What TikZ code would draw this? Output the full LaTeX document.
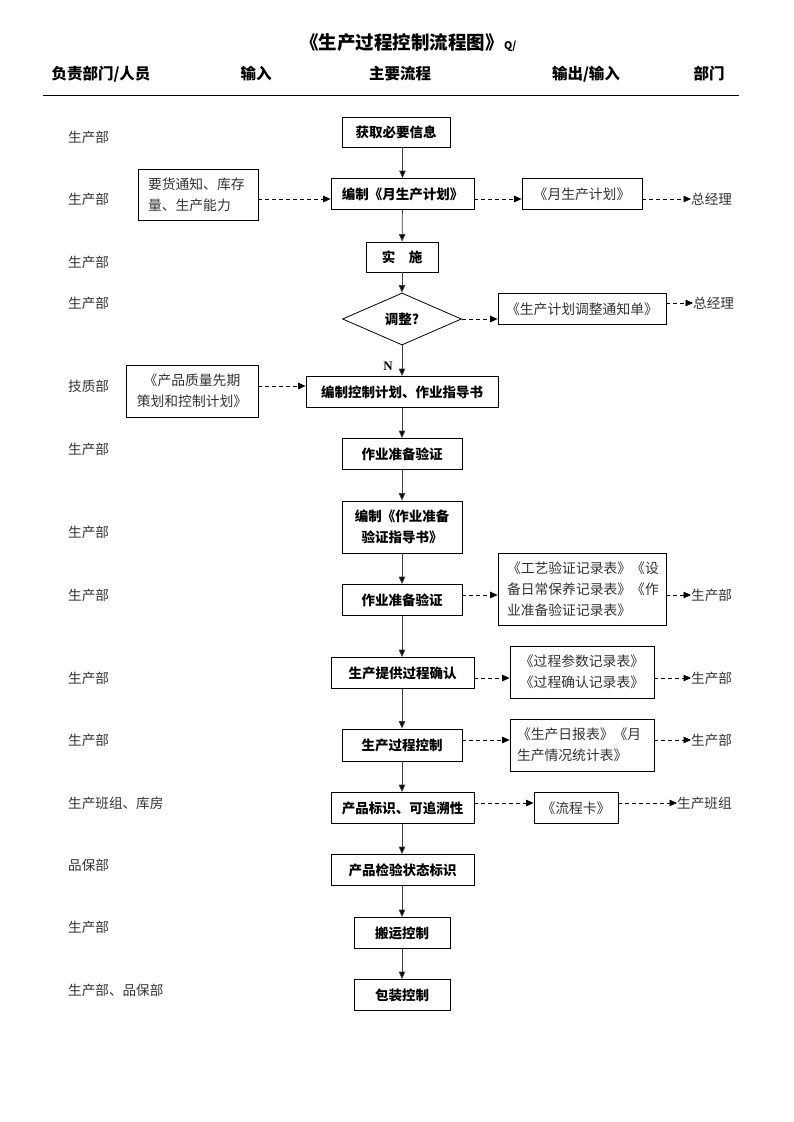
\documentclass[tikz,border=0pt]{standalone}
\usepackage{fontspec}
\setmainfont{Noto Sans CJK SC}
\newfontfamily\serifN{Liberation Serif}
\usetikzlibrary{arrows.meta,shapes.geometric}
\begin{document}
\begin{tikzpicture}[x=1pt,y=-1pt,
  box/.style={draw, line width=0.8pt, inner sep=0pt, anchor=center,
    font=\fontsize{13.5}{21}\selectfont\bfseries},
  doc/.style={draw, line width=0.8pt, inner sep=0pt, anchor=center, text=black!80,
    font=\fontsize{13.8}{21}\selectfont},
  lab/.style={anchor=west, inner sep=0pt, text=black!80, font=\fontsize{13.6}{16}\selectfont},
  rlab/.style={anchor=west, inner sep=0pt, text=black!80, font=\fontsize{13.6}{16}\selectfont},
  hdr/.style={anchor=center, inner sep=0pt, font=\fontsize{15.5}{18}\selectfont\bfseries},
  arr/.style={line width=0.8pt, draw=black!75, -{Triangle[length=7.5pt,width=6.5pt,fill=black]}},
  dar/.style={line width=0.7pt, dash pattern=on 4pt off 3pt, -{Triangle[length=7.5pt,width=6.5pt,fill=black]}}
]
\useasboundingbox (0,0) rectangle (793,1122);
\fill[white] (0,0) rectangle (793,1122);

% title and header
\node[anchor=center, inner sep=0pt, font=\fontsize{18.5}{20}\selectfont\bfseries] (title) at (402,43) {《生产过程控制流程图》};
\node[anchor=west, inner sep=0pt, font=\fontsize{10.5}{12}\selectfont\bfseries] (q) at (504,46) {Q/};
\node[hdr] (h1) at (101,74) {负责部门/人员};
\node[hdr] (h2) at (256,74) {输入};
\node[hdr] (h3) at (400,74) {主要流程};
\node[hdr] (h4) at (586,74) {输出/输入};
\node[hdr] (h5) at (709,74) {部门};
\coordinate (hl) at (43,95);
\coordinate (hr) at (739,95);
\draw[line width=1pt] (hl) -- (hr);

% left labels
\node[lab] (l1) at (68,137) {生产部};
\node[lab] (l2) at (68,199) {生产部};
\node[lab] (l3) at (68,262) {生产部};
\node[lab] (l4) at (68,303) {生产部};
\node[lab] (l5) at (68,386) {技质部};
\node[lab] (l6) at (68,449) {生产部};
\node[lab] (l7) at (68,532) {生产部};
\node[lab] (l8) at (68,595) {生产部};
\node[lab] (l9) at (68,678) {生产部};
\node[lab] (l10) at (68,740) {生产部};
\node[lab] (l11) at (68,803) {生产班组、库房};
\node[lab] (l12) at (68,865) {品保部};
\node[lab] (l13) at (68,927) {生产部};
\node[lab] (l14) at (68,990) {生产部、品保部};

% main flow
\node[box, minimum width=108, minimum height=30] (n1) at (396,132) {获取必要信息};
\node[box, minimum width=143, minimum height=31] (n2) at (402.5,194) {编制《月生产计划》};
\node[box, minimum width=72, minimum height=30] (n3) at (402,257) {实\hspace{1em}施};
\node[draw, diamond, line width=0.8pt, inner sep=0pt, minimum width=119, minimum height=52,
  font=\fontsize{13.5}{16}\selectfont\bfseries] (dia) at (402,319) {调整?};
\node[inner sep=0pt, font=\fontsize{13}{15}\selectfont\bfseries\serifN] (nlab) at (388,366) {N};
\node[box, minimum width=192, minimum height=31] (n4) at (402,392) {编制控制计划、作业指导书};
\node[box, minimum width=120, minimum height=31] (n5) at (402,454) {作业准备验证};
\node[box, minimum width=120, minimum height=52, align=center] (n6) at (402,527) {编制《作业准备\\验证指导书》};
\node[box, minimum width=120, minimum height=31] (n7) at (402,600) {作业准备验证};
\node[box, minimum width=143, minimum height=31] (n8) at (402.5,673) {生产提供过程确认};
\node[box, minimum width=120, minimum height=32] (n9) at (402,745) {生产过程控制};
\node[box, minimum width=143, minimum height=31] (n10) at (402.5,808) {产品标识、可追溯性};
\node[box, minimum width=143, minimum height=31] (n11) at (402.5,870) {产品检验状态标识};
\node[box, minimum width=96, minimum height=31] (n12) at (402,933) {搬运控制};
\node[box, minimum width=96, minimum height=31] (n13) at (402,995) {包装控制};

% inputs
\node[doc, minimum width=120, minimum height=51, text width=100, align=left] (in1) at (198,194.5) {要货通知、库存\\量、生产能力};
\node[doc, minimum width=132, minimum height=52, text width=124, align=center] (in2) at (192,391) {《产品质量先期\\策划和控制计划》};

% outputs
\node[doc, minimum width=120, minimum height=31] (o1) at (582,194) {《月生产计划》};
\node[doc, minimum width=168, minimum height=31] (o2) at (582,309) {《生产计划调整通知单》};
\node[doc, minimum width=168, minimum height=72, text width=150, align=left] (o3) at (582,589) {《工艺验证记录表》《设\\备日常保养记录表》《作\\业准备验证记录表》};
\node[doc, minimum width=144, minimum height=52, text width=134, align=center] (o4) at (582,672) {《过程参数记录表》\\《过程确认记录表》};
\node[doc, minimum width=144, minimum height=52, text width=130, align=left] (o5) at (582,745) {《生产日报表》《月\\生产情况统计表》};
\node[doc, minimum width=84, minimum height=31] (o6) at (576,808) {《流程卡》};

% right labels
\node[rlab] (r1) at (691,199) {总经理};
\node[rlab] (r2) at (693,303) {总经理};
\node[rlab] (r3) at (691,595) {生产部};
\node[rlab] (r4) at (691,678) {生产部};
\node[rlab] (r5) at (691,740) {生产部};
\node[rlab] (r6) at (677,803) {生产班组};

% vertical flow arrows
\draw[arr] (n1.south -| n2) -- (n2.north);
\draw[arr] (n2) -- (n3);
\draw[arr] (n3.south) -- (dia.north);
\draw[arr] (dia.south) -- (n4.north);
\draw[arr] (n4.south) -- (n5.north);
\draw[arr] (n5.south) -- (n6.north);
\draw[arr] (n6.south) -- (n7.north);
\draw[arr] (n7.south) -- (n8.north -| n7);
\draw[arr] (n8.south -| n7) -- (n9.north);
\draw[arr] (n9.south) -- (n10.north -| n9);
\draw[arr] (n10.south -| n9) -- (n11.north -| n9);
\draw[arr] (n11.south -| n9) -- (n12.north);
\draw[arr] (n12.south) -- (n13.north);

% dashed input arrows
\draw[dar] (in1.east |- l2) -- (n2.west |- l2);
\draw[dar] (in2.east |- l5) -- (n4.west |- l5);

% dashed output arrows
\draw[dar] (n2.east |- r1) -- (o1.west |- r1);
\draw[dar] (o1.east |- r1) -- (r1.west);
\draw[dar] (dia.east) -- (o2.west |- dia.east);
\draw[dar] (o2.east |- r2) -- (r2.west);
\draw[dar] (n7.east |- r3) -- (o3.west |- r3);
\draw[dar] (o3.east |- r3) -- (r3.west);
\draw[dar] (n8.east |- r4) -- (o4.west |- r4);
\draw[dar] (o4.east |- r4) -- (r4.west);
\draw[dar] (n9.east |- r5) -- (o5.west |- r5);
\draw[dar] (o5.east |- r5) -- (r5.west);
\draw[dar] (n10.east |- r6) -- (o6.west |- r6);
\draw[dar] (o6.east |- r6) -- (r6.west);
\end{tikzpicture}
\end{document}
